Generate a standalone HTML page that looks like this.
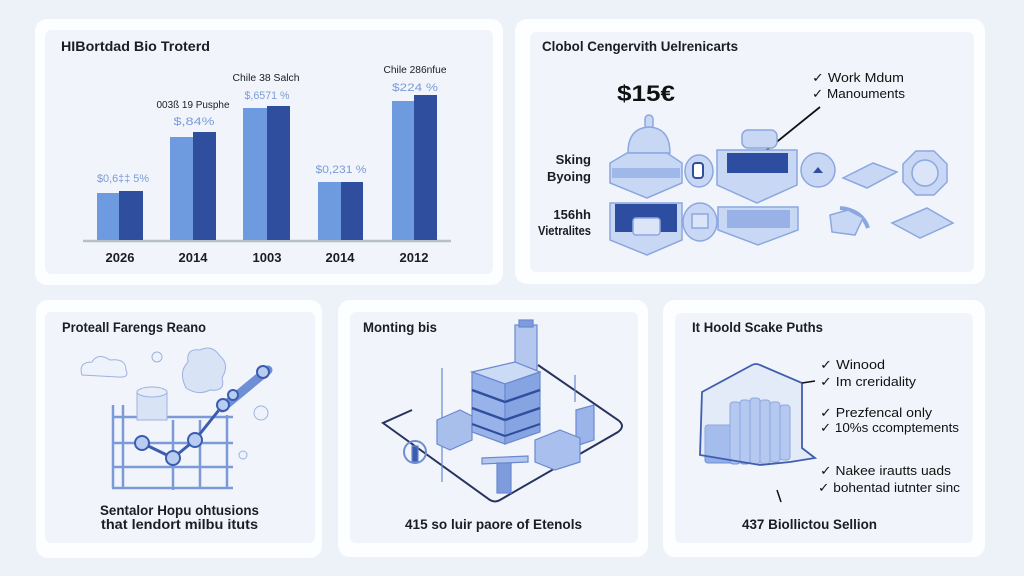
<!DOCTYPE html>
<html><head><meta charset="utf-8"><style>
html,body{margin:0;padding:0;background:#edf2f8;}
svg{display:block;font-family:"Liberation Sans",sans-serif;}
</style></head><body>
<svg width="1024" height="576" viewBox="0 0 1024 576" xmlns="http://www.w3.org/2000/svg">
<rect width="1024" height="576" fill="#edf2f8"/>
<!-- cards -->
<rect x="35" y="19" width="468" height="266" rx="12" fill="#fdfeff"/>
<rect x="45" y="30" width="448" height="244" rx="6" fill="#f1f5fb"/>
<rect x="515" y="19" width="470" height="265" rx="12" fill="#fdfeff"/>
<rect x="530" y="32" width="444" height="240" rx="6" fill="#f1f5fb"/>
<rect x="36" y="300" width="286" height="258" rx="12" fill="#fdfeff"/>
<rect x="45" y="312" width="270" height="231" rx="6" fill="#f1f5fb"/>
<rect x="338" y="300" width="310" height="257" rx="12" fill="#fdfeff"/>
<rect x="350" y="312" width="288" height="231" rx="6" fill="#f1f5fb"/>
<rect x="663" y="300" width="322" height="257" rx="12" fill="#fdfeff"/>
<rect x="675" y="313" width="298" height="230" rx="6" fill="#f1f5fb"/>

<!-- Card 1 -->
<text x="61" y="51" font-size="13.5" font-weight="bold" fill="#1c1c22" textLength="149" lengthAdjust="spacingAndGlyphs">HIBortdad Bio Troterd</text>
<line x1="83" y1="241" x2="451" y2="241" stroke="#b9bfc9" stroke-width="2.5"/>
<g>
<rect x="97" y="193" width="22" height="47" fill="#6e9be0"/><rect x="119" y="191" width="24" height="49" fill="#2f4e9e"/>
<rect x="170" y="137" width="23" height="103" fill="#6e9be0"/><rect x="193" y="132" width="23" height="108" fill="#2f4e9e"/>
<rect x="243" y="108" width="24" height="132" fill="#6e9be0"/><rect x="267" y="106" width="23" height="134" fill="#2f4e9e"/>
<rect x="318" y="182" width="23" height="58" fill="#6e9be0"/><rect x="341" y="182" width="22" height="58" fill="#2f4e9e"/>
<rect x="392" y="101" width="22" height="139" fill="#6e9be0"/><rect x="414" y="95" width="23" height="145" fill="#2f4e9e"/>
</g>
<g font-size="13" font-weight="bold" fill="#1c1c22" text-anchor="middle">
<text x="120" y="262">2026</text><text x="193" y="262">2014</text><text x="267" y="262">1003</text><text x="340" y="262">2014</text><text x="414" y="262">2012</text>
</g>
<g font-size="11" fill="#7a9bd8" text-anchor="middle">
<text x="123" y="182" textLength="52" lengthAdjust="spacingAndGlyphs">$0,6‡‡ 5%</text>
<text x="194" y="125" textLength="41" lengthAdjust="spacingAndGlyphs">$,84%</text>
<text x="267" y="99" textLength="45" lengthAdjust="spacingAndGlyphs">$,6571 %</text>
<text x="341" y="173" textLength="51" lengthAdjust="spacingAndGlyphs">$0,231 %</text>
<text x="415" y="91" textLength="46" lengthAdjust="spacingAndGlyphs">$224 %</text>
</g>
<g font-size="10" fill="#1c1c22" text-anchor="middle">
<text x="193" y="108" textLength="73" lengthAdjust="spacingAndGlyphs">003ß 19 Pusphe</text>
<text x="266" y="81" textLength="67" lengthAdjust="spacingAndGlyphs">Chile 38 Salch</text>
<text x="415" y="73" textLength="63" lengthAdjust="spacingAndGlyphs">Chile 286nfue</text>
</g>

<!-- Card 2 -->
<text x="542" y="51" font-size="13.5" font-weight="bold" fill="#1c1c22" textLength="196" lengthAdjust="spacingAndGlyphs">Clobol Cengervith Uelrenicarts</text>
<text x="617" y="101" font-size="22" font-weight="bold" fill="#111" textLength="58" lengthAdjust="spacingAndGlyphs">$15€</text>
<text x="812" y="82" font-size="13" fill="#111" textLength="92" lengthAdjust="spacingAndGlyphs">✓ Work Mdum</text>
<text x="812" y="98" font-size="13" fill="#111" textLength="93" lengthAdjust="spacingAndGlyphs">✓ Manouments</text>
<line x1="820" y1="107" x2="763" y2="153" stroke="#111" stroke-width="1.8"/>
<g font-size="13" font-weight="bold" fill="#1c1c22" text-anchor="end">
<text x="591" y="164">Sking</text><text x="591" y="181">Byoing</text><text x="591" y="219">156hh</text>
<text x="591" y="235" textLength="53" lengthAdjust="spacingAndGlyphs">Vietralites</text>
</g>
<g stroke="#8ba7e0" stroke-width="1.5" fill="#c8d8f4">
<!-- bottle shape -->
<rect x="645" y="115" width="8" height="14" rx="4"/>
<path d="M628,153 Q628,128 649,127 Q670,128 670,153 Z"/>
<polygon points="610,163 627,153 667,153 682,163 682,183 647,198 610,183"/>
<rect x="612" y="168" width="68" height="10" fill="#9fb8ea" stroke="none"/>
<!-- small circle -->
<ellipse cx="699" cy="171" rx="14" ry="16"/>
<rect x="693" y="163" width="10" height="15" rx="3" fill="#fff" stroke="#2f4e9e" stroke-width="2"/>
<!-- big pentagon -->
<rect x="742" y="130" width="35" height="18" rx="6"/>
<polygon points="717,150 797,150 797,185 757,203 717,185"/>
<rect x="727" y="153" width="61" height="20" fill="#2d4ea0" stroke="none"/>
<!-- circle -->
<circle cx="818" cy="170" r="17"/>
<path d="M813,173 L818,167 L823,173 Z" fill="#2f4e9e" stroke="none"/>
<!-- diamond -->
<polygon points="843,178 873,163 897,172 867,188"/>
<!-- octagon -->
<polygon points="916,151 934,151 947,164 947,182 934,195 916,195 903,182 903,164"/>
<circle cx="925" cy="173" r="13" fill="#dbe5f7"/>
<!-- row 2 -->
<polygon points="610,203 682,203 682,240 647,255 610,240"/>
<rect x="615" y="204" width="62" height="28" fill="#2d4ea0" stroke="none"/>
<rect x="633" y="218" width="27" height="17" rx="3" fill="#dbe5f7"/>
<ellipse cx="700" cy="222" rx="17" ry="19"/>
<rect x="692" y="214" width="16" height="14" fill="#dbe5f7"/>
<polygon points="718,207 798,207 798,230 758,245 718,230"/>
<rect x="727" y="210" width="63" height="18" fill="#98b2e8" stroke="none"/>
<path d="M840,208 Q862,210 868,228" fill="none" stroke-width="4"/>
<polygon points="830,215 848,210 863,218 855,235 832,232"/>
<polygon points="892,223 927,208 953,223 920,238"/>
</g>

<!-- Card 3 -->
<text x="62" y="332" font-size="13.5" font-weight="bold" fill="#1c1c22" textLength="144" lengthAdjust="spacingAndGlyphs">Proteall Farengs Reano</text>
<g stroke="#7d9ad8" stroke-width="2.5" fill="none">
<line x1="112" y1="417" x2="233" y2="417"/><line x1="112" y1="443" x2="233" y2="443"/>
<line x1="112" y1="467" x2="233" y2="467"/><line x1="112" y1="488" x2="233" y2="488"/>
<line x1="113" y1="405" x2="113" y2="488"/><line x1="123" y1="405" x2="123" y2="488"/>
<line x1="173" y1="420" x2="173" y2="490"/><line x1="200" y1="420" x2="200" y2="488"/>
<line x1="227" y1="415" x2="227" y2="488"/>
</g>
<g stroke="#9db2de" stroke-width="1" fill="#eef3fb">
<path d="M82,375 Q78,362 92,362 Q98,352 110,360 Q126,358 126,370 Q130,378 118,377 Z"/>
<path d="M186,388 Q178,372 188,362 Q186,348 200,350 Q212,344 220,356 Q230,364 222,378 Q226,392 210,390 Q198,396 186,388 Z" fill="#d8e3f6"/>
<circle cx="157" cy="357" r="5"/><circle cx="261" cy="413" r="7"/><circle cx="243" cy="455" r="4"/>
</g>
<rect x="137" y="392" width="30" height="28" fill="#d9e3f6" stroke="#9db2de"/>
<ellipse cx="152" cy="392" rx="15" ry="5" fill="#e6edf9" stroke="#9db2de"/>
<polyline points="142,443 173,458 195,440 223,405 263,372" fill="none" stroke="#3b5cb0" stroke-width="3"/>
<line x1="222" y1="408" x2="268" y2="370" stroke="#6e8fd6" stroke-width="9" stroke-linecap="round"/>
<g fill="#b9cdf1" stroke="#3b5cb0" stroke-width="2">
<circle cx="142" cy="443" r="7"/><circle cx="173" cy="458" r="7"/><circle cx="195" cy="440" r="7"/><circle cx="223" cy="405" r="6"/><circle cx="233" cy="395" r="5"/><circle cx="263" cy="372" r="6"/>
</g>
<g font-size="14" font-weight="bold" fill="#1c1c22">
<text x="100" y="515" textLength="159" lengthAdjust="spacingAndGlyphs">Sentalor Hopu ohtusions</text>
<text x="101" y="529" textLength="157" lengthAdjust="spacingAndGlyphs">that lendort milbu ituts</text>
</g>

<!-- Card 4 -->
<text x="363" y="332" font-size="13.5" font-weight="bold" fill="#1c1c22" textLength="74" lengthAdjust="spacingAndGlyphs">Monting bis</text>
<path d="M412,410 L383,423 L490,500 Q495,503 500,500 L618,432 Q626,426 618,420 L538,365" fill="none" stroke="#26335e" stroke-width="2"/>
<g stroke="#6a88d0" stroke-width="1.2">
<line x1="442" y1="368" x2="442" y2="482"/>
<line x1="575" y1="375" x2="575" y2="402"/>
<circle cx="415" cy="452" r="11" fill="none" stroke="#6f8dd4" stroke-width="2"/>
<rect x="412" y="446" width="6" height="16" fill="#3b5cb0"/>
<!-- left machine -->
<polygon points="437,420 460,410 472,416 472,440 450,450 437,444" fill="#a8bfec"/>
<!-- tower -->
<rect x="515" y="325" width="22" height="45" fill="#b4c8ef"/>
<rect x="519" y="320" width="14" height="7" fill="#7e9cdc"/>
<!-- building -->
<polygon points="472,372 515,362 540,372 505,384" fill="#cbdaf5"/>
<polygon points="472,372 505,384 505,444 472,432" fill="#98b3e9"/>
<polygon points="505,384 540,372 540,432 505,444" fill="#86a4e2"/>
<line x1="472" y1="390" x2="505" y2="402" stroke="#2f4e9e" stroke-width="2.5"/>
<line x1="505" y1="402" x2="540" y2="390" stroke="#2f4e9e" stroke-width="2.5"/>
<line x1="472" y1="408" x2="505" y2="420" stroke="#2f4e9e" stroke-width="2.5"/>
<line x1="505" y1="420" x2="540" y2="408" stroke="#2f4e9e" stroke-width="2.5"/>
<line x1="472" y1="424" x2="505" y2="436" stroke="#2f4e9e" stroke-width="2"/>
<line x1="505" y1="436" x2="540" y2="424" stroke="#2f4e9e" stroke-width="2"/>
<!-- right machines -->
<polygon points="576,410 594,405 594,440 576,446" fill="#9bb5ea"/>
<polygon points="535,440 560,430 580,438 580,462 555,470 535,462" fill="#a9c0ee"/>
<!-- table -->
<polygon points="482,458 528,456 528,462 482,464" fill="#b4c8ef"/>
<rect x="497" y="463" width="14" height="30" fill="#7e9cdc"/>
</g>
<text x="405" y="529" font-size="14" font-weight="bold" fill="#1c1c22" textLength="177" lengthAdjust="spacingAndGlyphs">415 so luir paore of Etenols</text>

<!-- Card 5 -->
<text x="692" y="332" font-size="13.5" font-weight="bold" fill="#1c1c22" textLength="131" lengthAdjust="spacingAndGlyphs">It Hoold Scake Puths</text>
<g fill="#a9c0ee" stroke="#6d8fd6" stroke-width="1">
<rect x="705" y="425" width="30" height="38" rx="3" fill="#93afe8"/>
<rect x="730" y="402" width="10" height="62" rx="3"/>
<rect x="740" y="400" width="10" height="64" rx="3"/>
<rect x="750" y="398" width="10" height="66" rx="3"/>
<rect x="760" y="400" width="10" height="64" rx="3"/>
<rect x="770" y="402" width="10" height="60" rx="3"/>
<rect x="780" y="405" width="10" height="55" rx="3"/>
</g>
<path d="M702,392 L752,365 Q756,363 760,365 L802,383 L802,448 L815,458 L790,462 L760,465 L700,455 Z" fill="#c8d8f4" fill-opacity="0.35" stroke="#3f5fae" stroke-width="1.8"/>
<line x1="802" y1="383" x2="815" y2="381" stroke="#111" stroke-width="1.5"/>
<line x1="777" y1="490" x2="781" y2="502" stroke="#111" stroke-width="1.5"/>
<g font-size="13" fill="#111">
<text x="820" y="369" textLength="65" lengthAdjust="spacingAndGlyphs">✓ Winood</text>
<text x="820" y="386" textLength="96" lengthAdjust="spacingAndGlyphs">✓ Im creridality</text>
<text x="820" y="417" textLength="112" lengthAdjust="spacingAndGlyphs">✓ Prezfencal only</text>
<text x="820" y="432" textLength="139" lengthAdjust="spacingAndGlyphs">✓ 10%s ccomptements</text>
<text x="820" y="475" textLength="131" lengthAdjust="spacingAndGlyphs">✓ Nakee irautts uads</text>
<text x="818" y="492" textLength="142" lengthAdjust="spacingAndGlyphs">✓ bohentad iutnter sinc</text>
</g>
<text x="742" y="529" font-size="14" font-weight="bold" fill="#1c1c22" textLength="135" lengthAdjust="spacingAndGlyphs">437 Biollictou Sellion</text>
</svg>
</body></html>
